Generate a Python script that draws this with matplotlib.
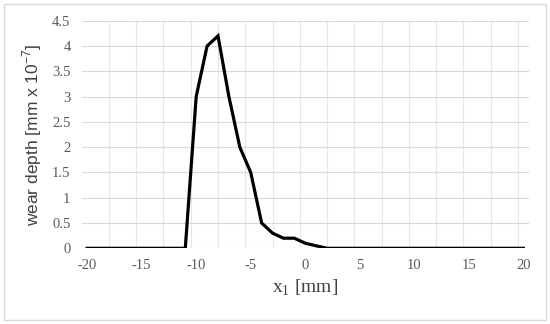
import numpy as np
import matplotlib
matplotlib.use("Agg")
from matplotlib import pyplot as plt
from matplotlib.patches import Rectangle

plt.rcParams['axes.unicode_minus'] = False

x_pos = list(range(-20, 21))
wear = [0] * 9 + [0, 3, 4, 4.2, 3, 2, 1.5, 0.5, 0.3, 0.2, 0.2, 0.1, 0.05] + [0] * 19
x_ticks = [-20, -15, -10, -5, 0, 5, 10, 15, 20]
y_ticks = [0, 0.5, 1, 1.5, 2, 2.5, 3, 3.5, 4, 4.5]

fig = plt.figure(figsize=(5.5, 3.24), dpi=100)
ax = fig.add_axes([0.1485, 0.2336, 0.813, 0.7024])

# light chart border like excel
fig.patches.append(Rectangle((0.008, 0.012), 0.984, 0.976, transform=fig.transFigure,
                             fill=False, edgecolor='#d9d9d9', lw=1))

ax.set_xlim(-20.5, 20.5)
ax.set_ylim(0, 4.5)

for gx in np.arange(-18, 20.5, 2.5):
    ax.axvline(gx, color='#e6e6e6', lw=0.8, zorder=0)
for gy in y_ticks:
    ax.axhline(gy, color='#d9d9d9', lw=0.8, zorder=0)

ax.plot(x_pos, wear, color='black', lw=2.3, solid_joinstyle='miter', zorder=3)

for s in ax.spines.values():
    s.set_visible(False)

ax.set_xticks(x_ticks)
ax.set_yticks(y_ticks)
ax.set_yticklabels(['0', '0.5', '1', '1.5', '2', '2.5', '3', '3.5', '4', '4.5'])
ax.tick_params(length=0, labelsize=10.5, colors='#595959', pad=8)
for lab in ax.get_xticklabels() + ax.get_yticklabels():
    lab.set_family('Liberation Serif')

ax.set_xlabel(r'x$_\mathregular{1}$ [mm]', family='Liberation Serif', fontsize=14,
              color='#404040', labelpad=4)
ax.set_ylabel(r'wear depth [mm x 10$^\mathregular{-7}$]', family='Liberation Sans',
              fontsize=12.5, color='#404040', labelpad=6)

fig.savefig('out.png', dpi=100)
